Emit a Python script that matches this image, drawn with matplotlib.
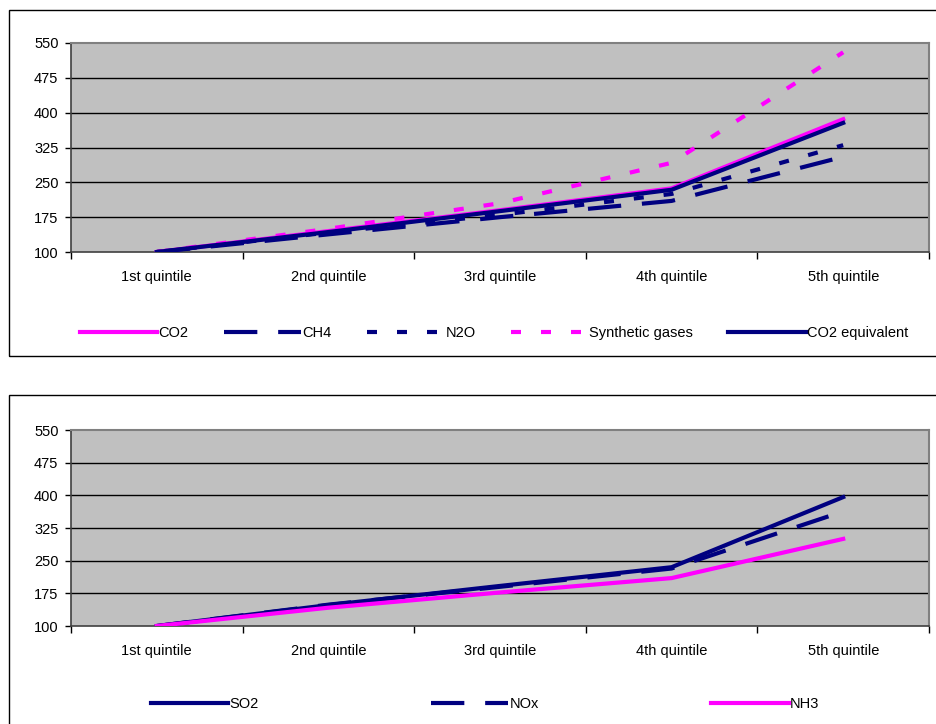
import matplotlib
matplotlib.use("Agg")
import matplotlib.pyplot as plt
from matplotlib.patches import Rectangle

plt.rcParams['font.family'] = ['Liberation Sans', 'DejaVu Sans']

# ── Data ──────────────────────────────────────────────────────────────────────
quintiles = ['1st quintile', '2nd quintile', '3rd quintile', '4th quintile', '5th quintile']

co2       = [100, 145, 190, 237, 386]
ch4       = [100, 138, 175, 210, 305]
n2o       = [100, 142, 180, 225, 330]
synthetic = [100, 150, 205, 292, 530]
co2_eq    = [100, 143, 188, 234, 378]

so2 = [100, 148, 192, 235, 396]
nox = [100, 149, 190, 232, 363]
nh3 = [100, 142, 177, 210, 300]

yticks = [100, 175, 250, 325, 400, 475, 550]

# ── Styles ────────────────────────────────────────────────────────────────────
MAGENTA = '#FF00FF'
NAVY = '#000080'
LW = 3.0
LONG_DASH = (0, (8, 5))
SHORT_DASH = (0, (2.4, 4.8))
FS = 10.5

W, H = 937, 724
fig = plt.figure(figsize=(W / 100, H / 100), dpi=100)


def fx(px):
    return px / W


def fy(px):
    return 1 - px / H


def style_axes(ax):
    x = range(len(quintiles))
    ax.set_facecolor('#C0C0C0')
    ax.set_xlim(-0.5, len(quintiles) - 0.5)
    ax.set_ylim(100, 550)
    ax.set_yticks(yticks)
    ax.tick_params(axis='y', labelsize=FS, length=4, width=1, pad=5)
    # major ticks at category boundaries, labels on minor ticks
    ax.set_xticks([i - 0.5 for i in range(len(quintiles) + 1)])
    ax.set_xticklabels([])
    ax.set_xticks(list(x), minor=True)
    ax.set_xticklabels(quintiles, minor=True, fontsize=FS)
    ax.tick_params(axis='x', which='major', length=5, width=1, direction='out')
    ax.tick_params(axis='x', which='minor', length=0, pad=13)
    for y in yticks[1:-1]:
        ax.axhline(y, color='black', lw=1, zorder=1)
    for s in ['top', 'right']:
        ax.spines[s].set_color('#808080')
        ax.spines[s].set_linewidth(1.5)
    for s in ['left', 'bottom']:
        ax.spines[s].set_color('#404040')
        ax.spines[s].set_linewidth(1.2)


# ── Outer chart boxes ─────────────────────────────────────────────────────────
fig.patches.append(Rectangle((fx(9), fy(356)), fx(940) - fx(9), fy(10) - fy(356),
                             transform=fig.transFigure, fill=False,
                             edgecolor='black', lw=1))
fig.patches.append(Rectangle((fx(9), fy(730)), fx(940) - fx(9), fy(395) - fy(730),
                             transform=fig.transFigure, fill=False,
                             edgecolor='black', lw=1))

# ── Top chart: greenhouse gases ───────────────────────────────────────────────
ax1 = fig.add_axes([fx(71), fy(252), fx(929) - fx(71), fy(43) - fy(252)])
style_axes(ax1)
x = list(range(len(quintiles)))
ax1.plot(x, co2, color=MAGENTA, lw=LW, label='CO2', zorder=3)
ax1.plot(x, ch4, color=NAVY, lw=LW, ls=LONG_DASH, label='CH4', zorder=3)
ax1.plot(x, n2o, color=NAVY, lw=LW, ls=SHORT_DASH, label='N2O', zorder=3)
ax1.plot(x, synthetic, color=MAGENTA, lw=LW, ls=SHORT_DASH, label='Synthetic gases', zorder=3)
ax1.plot(x, co2_eq, color=NAVY, lw=LW, label='CO2 equivalent', zorder=3)

fig.legend(*ax1.get_legend_handles_labels(), loc='center left',
           bbox_to_anchor=(fx(80), fy(333)), ncol=5, frameon=False,
           fontsize=FS, handlelength=5.3, handletextpad=0.1,
           columnspacing=2.4, borderaxespad=0, borderpad=0)

# ── Bottom chart: acidifying gases ────────────────────────────────────────────
ax2 = fig.add_axes([fx(71), fy(626), fx(929) - fx(71), fy(430) - fy(626)])
style_axes(ax2)
ax2.plot(x, so2, color=NAVY, lw=LW, label='SO2', zorder=3)
ax2.plot(x, nox, color=NAVY, lw=LW, ls=LONG_DASH, label='NOx', zorder=3)
ax2.plot(x, nh3, color=MAGENTA, lw=LW, label='NH3', zorder=3)

fig.legend(*ax2.get_legend_handles_labels(), loc='center left',
           bbox_to_anchor=(fx(151), fy(704)), ncol=3, frameon=False,
           fontsize=FS, handlelength=5.3, handletextpad=0.1,
           columnspacing=11.8, borderaxespad=0, borderpad=0)

fig.savefig('out.png', dpi=100)
